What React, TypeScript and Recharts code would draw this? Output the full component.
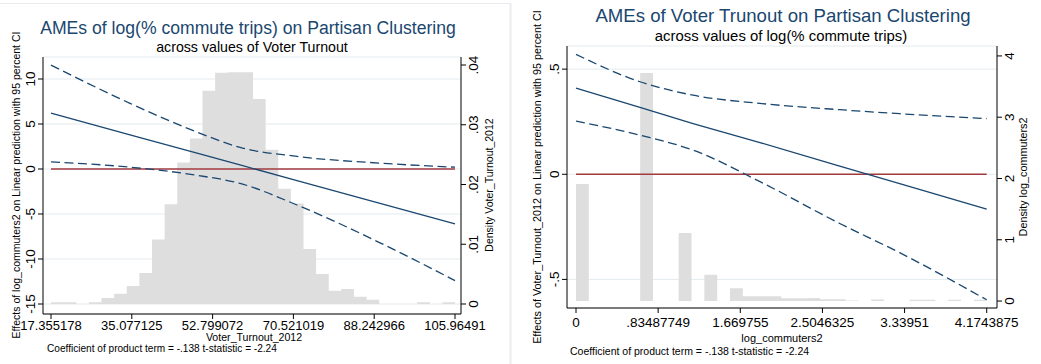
import { ComposedChart, Area, Line, XAxis, YAxis, CartesianGrid, ReferenceLine } from "recharts";

const FONT = "'Liberation Sans', Arial, sans-serif";
const NAVY = "#1a476f";
const MAROON = "#a23a40";
const BARS = "#dedede";
const GRID = "#e3ebee";

// left panel: AME of log(% commute trips) across voter turnout
const turnoutX = [17.355178, 34.68, 49.38, 58.81, 71.31, 89.52, 105.96491];
const turnoutFit = [6.2, 3.8, 1.75, 0.45, -1.29, -3.82, -6.1];
const turnoutHi = [11.55, 7.3, 4.1, 2.4, 1.4, 0.65, 0.2];
const turnoutLo = [0.8, 0.2, -0.7, -1.6, -4.0, -8.2, -12.4];
const turnoutDensity = [
  0.0003, 0.0003, 0, 0.0003, 0.001, 0.0017, 0.003, 0.0052, 0.0108, 0.0167, 0.0237,
  0.0277, 0.0357, 0.0387, 0.0388, 0.0388, 0.0343, 0.0258, 0.0193, 0.0168, 0.0092,
  0.005, 0.0022, 0.0025, 0.0012, 0.0007, 0, 0, 0, 0.0003, 0, 0.0003,
];
const turnoutTicks = [17.355178, 35.077125, 52.799072, 70.521019, 88.242966, 105.96491];
const turnoutTickLabels = ["17.355178", "35.077125", "52.799072", "70.521019", "88.242966", "105.96491"];
const effectTicksL = [-15, -10, -5, 0, 5, 10];
const effectLabelsL = ["-15", "-10", "-5", "0", "5", "10"];
const densTicksL = [0, 0.01, 0.02, 0.03, 0.04];
const densLabelsL = ["0", ".01", ".02", ".03", ".04"];

// right panel: AME of voter turnout across log(% commute trips)
const commuteX = [0, 0.65, 1.19, 1.87, 2.68, 3.29, 4.1743875];
const commuteFit = [0.41, 0.318, 0.241, 0.151, 0.039, -0.045, -0.166];
const commuteHi = [0.57, 0.44, 0.376, 0.337, 0.307, 0.288, 0.265];
const commuteLo = [0.253, 0.186, 0.115, -0.035, -0.234, -0.373, -0.597];
const commuteDensity = [
  1.91, 0, 0, 0, 0, 3.72, 0, 0, 1.11, 0, 0.43, 0, 0.21, 0.08, 0.08, 0.08, 0.045, 0.045,
  0.05, 0.03, 0.03, 0.01, 0, 0.025, 0, 0, 0.02, 0.02, 0, 0.02, 0, 0.02,
];
const commuteTicks = [0, 0.83487749, 1.669755, 2.5046325, 3.33951, 4.1743875];
const commuteTickLabels = ["0", ".83487749", "1.669755", "2.5046325", "3.33951", "4.1743875"];
const effectTicksR = [-0.5, 0, 0.5];
const effectLabelsR = ["-.5", "0", ".5"];
const densTicksR = [0, 1, 2, 3, 4];
const densLabelsR = ["0", "1", "2", "3", "4"];

type Row = { x: number; density?: number; fit?: number; hi?: number; lo?: number };

function buildRows(xs: number[], fit: number[], hi: number[], lo: number[], dens: number[]) {
  const min = xs[0];
  const max = xs[xs.length - 1];
  const w = (max - min) / dens.length;
  const rows = new Map<number, Row>();
  dens.forEach((d, i) => rows.set(i === 0 ? min : min + i * w, { x: i === 0 ? min : min + i * w, density: d }));
  rows.set(max, { x: max, density: dens[dens.length - 1] });
  xs.forEach((x, i) => {
    const r = rows.get(x) || { x };
    rows.set(x, { ...r, fit: fit[i], hi: hi[i], lo: lo[i] });
  });
  return [...rows.values()].sort((a, b) => a.x - b.x);
}

function labelFor(v: number, ticks: number[], labels: string[]) {
  const i = ticks.findIndex((t) => Math.abs(t - v) < 1e-6);
  return i >= 0 ? labels[i] : String(v);
}

function rotTick(ticks: number[], labels: string[], dx: number, size: number) {
  return (props: any) => {
    const { x, y, payload } = props;
    const tx = x + dx;
    return (
      <text
        x={tx}
        y={y}
        transform={`rotate(-90 ${tx} ${y})`}
        textAnchor="middle"
        fontSize={size}
        fontFamily={FONT}
        fill="#000"
      >
        {labelFor(payload.value, ticks, labels)}
      </text>
    );
  };
}

interface PanelProps {
  width: number;
  margin: { top: number; right: number; bottom: number; left: number };
  xs: number[];
  fit: number[];
  hi: number[];
  lo: number[];
  density: number[];
  xDomain: [number, number];
  xTicks: number[];
  xLabels: string[];
  xFont: number;
  xTickMargin: number;
  yDomain: [number, number];
  yTicks: number[];
  yLabels: string[];
  dDomain: [number, number];
  dTicks: number[];
  dLabels: string[];
}

function Panel(p: PanelProps) {
  const data = buildRows(p.xs, p.fit, p.hi, p.lo, p.density);
  const first = p.xs[0];
  const last = p.xs[p.xs.length - 1];
  return (
    <ComposedChart width={p.width} height={364} data={data} margin={p.margin}>
      <CartesianGrid yAxisId="left" vertical={false} stroke={GRID} strokeWidth={1} />
      <XAxis
        type="number"
        dataKey="x"
        domain={p.xDomain}
        allowDataOverflow
        ticks={p.xTicks}
        interval={0}
        tickFormatter={(v: number) => labelFor(v, p.xTicks, p.xLabels)}
        tickSize={5}
        tickMargin={p.xTickMargin}
        height={30}
        axisLine={{ stroke: "#000", strokeWidth: 1 }}
        tickLine={{ stroke: "#000" }}
        tick={{ fill: "#000", fontSize: p.xFont, fontFamily: FONT }}
      />
      <YAxis
        yAxisId="left"
        type="number"
        domain={p.yDomain}
        allowDataOverflow
        ticks={p.yTicks}
        interval={0}
        width={30}
        tickSize={5}
        axisLine={{ stroke: "#000", strokeWidth: 1 }}
        tickLine={{ stroke: "#000" }}
        tick={rotTick(p.yTicks, p.yLabels, -1, 13.5)}
      />
      <YAxis
        yAxisId="right"
        orientation="right"
        type="number"
        domain={p.dDomain}
        allowDataOverflow
        ticks={p.dTicks}
        interval={0}
        width={30}
        tickSize={5}
        axisLine={{ stroke: "#000", strokeWidth: 1 }}
        tickLine={{ stroke: "#000" }}
        tick={rotTick(p.dTicks, p.dLabels, 10.5, 13.5)}
      />
      <Area
        yAxisId="right"
        type="stepAfter"
        dataKey="density"
        fill={BARS}
        fillOpacity={1}
        stroke="none"
        baseValue={0}
        connectNulls
        dot={false}
        activeDot={false}
        isAnimationActive={false}
      />
      <ReferenceLine
        yAxisId="left"
        segment={[
          { x: first, y: 0 },
          { x: last, y: 0 },
        ]}
        stroke={MAROON}
        strokeWidth={1.4}
      />
      <Line yAxisId="left" type="monotone" dataKey="hi" stroke={NAVY} strokeWidth={1.3} strokeDasharray="9 4.5" dot={false} activeDot={false} connectNulls isAnimationActive={false} />
      <Line yAxisId="left" type="linear" dataKey="fit" stroke={NAVY} strokeWidth={1.3} dot={false} activeDot={false} connectNulls isAnimationActive={false} />
      <Line yAxisId="left" type="monotone" dataKey="lo" stroke={NAVY} strokeWidth={1.3} strokeDasharray="9 4.5" dot={false} activeDot={false} connectNulls isAnimationActive={false} />
    </ComposedChart>
  );
}

function VText({ x, y, size, children }: { x: number; y: number; size: number; children: string }) {
  return (
    <text x={x} y={y} transform={`rotate(-90 ${x} ${y})`} textAnchor="middle" fontSize={size} fontFamily={FONT} fill="#000">
      {children}
    </text>
  );
}

export default function App() {
  return (
    <div style={{ position: "absolute", left: 0, top: 0, width: 1041, height: 364, background: "#fff", overflow: "hidden" }}>
      <div style={{ position: "absolute", left: 0, top: 0 }}>
        <Panel
          width={515}
          margin={{ top: 57, right: 24, bottom: 20, left: 13 }}
          xs={turnoutX}
          fit={turnoutFit}
          hi={turnoutHi}
          lo={turnoutLo}
          density={turnoutDensity}
          xDomain={[15.6, 107.281]}
          xTicks={turnoutTicks}
          xLabels={turnoutTickLabels}
          xFont={13}
          xTickMargin={2}
          yDomain={[-16.111, 12.444]}
          yTicks={effectTicksL}
          yLabels={effectLabelsL}
          dDomain={[-0.001674, 0.04134]}
          dTicks={densTicksL}
          dLabels={densLabelsL}
        />
      </div>
      <div style={{ position: "absolute", left: 515, top: 0 }}>
        <Panel
          width={526}
          margin={{ top: 46, right: 14, bottom: 26, left: 22 }}
          xs={commuteX}
          fit={commuteFit}
          hi={commuteHi}
          lo={commuteLo}
          density={commuteDensity}
          xDomain={[-0.0915, 4.279]}
          xTicks={commuteTicks}
          xLabels={commuteTickLabels}
          xFont={13.5}
          xTickMargin={4}
          yDomain={[-0.636, 0.61]}
          yTicks={effectTicksR}
          yLabels={effectLabelsR}
          dDomain={[-0.1134, 4.162]}
          dTicks={densTicksR}
          dLabels={densLabelsR}
        />
      </div>
      <svg width={1041} height={364} style={{ position: "absolute", left: 0, top: 0, pointerEvents: "none" }}>
        <line x1={0} y1={3.5} x2={510.5} y2={3.5} stroke="#e8ecef" />
        <line x1={510.5} y1={3.5} x2={510.5} y2={364} stroke="#e8ecef" strokeWidth={2} />

        <text x={248} y={34} textAnchor="middle" fontSize={17.6} fontFamily={FONT} fill={NAVY}>
          AMEs of log(% commute trips) on Partisan Clustering
        </text>
        <text x={252} y={52} textAnchor="middle" fontSize={14.2} fontFamily={FONT} fill="#000">
          across values of Voter Turnout
        </text>
        <VText x={20} y={185} size={10.5}>Effects of log_commuters2 on Linear prediction with 95 percent CI</VText>
        <VText x={493} y={185} size={10.5}>Density Voter_Turnout_2012</VText>
        <text x={254} y={341} textAnchor="middle" fontSize={10.6} fontFamily={FONT} fill="#000">
          Voter_Turnout_2012
        </text>
        <text x={47} y={352} fontSize={10.1} fontFamily={FONT} fill="#000">
          Coefficient of product term = -.138 t-statistic = -2.24
        </text>

        <text x={783} y={21.5} textAnchor="middle" fontSize={18.6} fontFamily={FONT} fill={NAVY}>
          AMEs of Voter Trunout on Partisan Clustering
        </text>
        <text x={781} y={41} textAnchor="middle" fontSize={14.9} fontFamily={FONT} fill="#000">
          across values of log(% commute trips)
        </text>
        <VText x={541} y={177} size={10.8}>Effects of Voter_Turnout_2012 on Linear prediction with 95 percent CI</VText>
        <VText x={1027} y={177} size={10.8}>Density log_commuters2</VText>
        <text x={782} y={342} textAnchor="middle" fontSize={11} fontFamily={FONT} fill="#000">
          log_commuters2
        </text>
        <text x={570} y={355} fontSize={10.5} fontFamily={FONT} fill="#000">
          Coefficient of product term = -.138 t-statistic = -2.24
        </text>
      </svg>
    </div>
  );
}
